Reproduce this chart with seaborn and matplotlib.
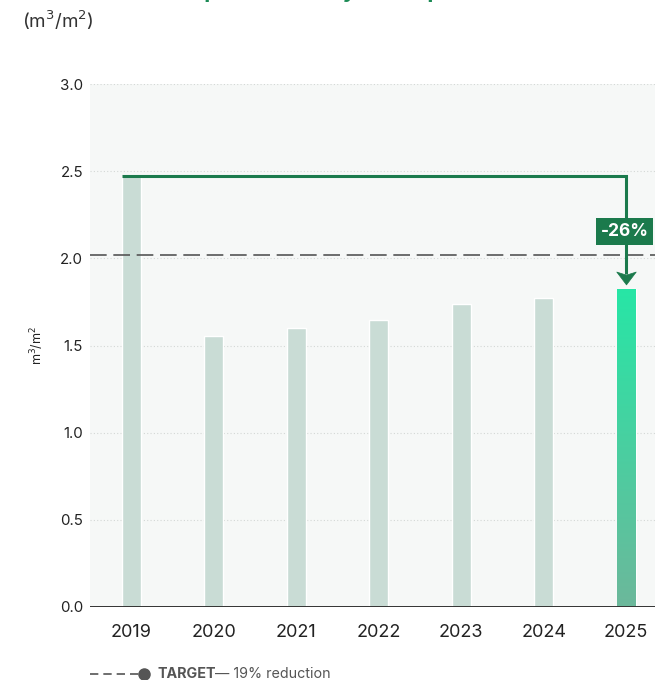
import matplotlib
matplotlib.use("Agg")
import matplotlib.pyplot as plt
from matplotlib.lines import Line2D
from matplotlib.path import Path
import numpy as np
import pandas as pd
import seaborn as sns

# Data
years = ["2019", "2020", "2021", "2022", "2023", "2024", "2025"]
intensity = [2.47, 1.555, 1.60, 1.647, 1.738, 1.773, 1.825]
target_value = 2.02
change_label = "-26%"
y_ticks = [0.0, 0.5, 1.0, 1.5, 2.0, 2.5, 3.0]

df = pd.DataFrame({"year": years, "intensity": intensity})

sns.set_theme(style="white")
plt.rcParams["font.family"] = ["Inter", "DejaVu Sans"]

W, H = 655, 680
fig = plt.figure(figsize=(W / 100, H / 100), dpi=100)
ax = fig.add_axes([90 / W, 1 - 607 / H, 1 - 90 / W, (607 - 84) / H])
ax.set_facecolor("#f6f8f7")

bar_color = "#c9dcd5"
sns.barplot(data=df, x="year", y="intensity", color=bar_color, width=0.23,
            saturation=1, ax=ax, zorder=2)

# Gradient fill on the latest year
last = ax.patches[-1]
x0 = last.get_x()
w = last.get_width()
h = last.get_height()
top_rgb = np.array(matplotlib.colors.to_rgb("#27e6a6"))
bot_rgb = np.array(matplotlib.colors.to_rgb("#6cb89b"))
t = np.linspace(0, 1, 256)[:, None]
grad = (top_rgb[None, :] * (1 - t) + bot_rgb[None, :] * t)[:, None, :]
im = ax.imshow(grad, extent=[x0, x0 + w, 0, h], origin="upper",
               aspect="auto", zorder=3, interpolation="bilinear")
im.set_clip_path(last)
ax.set_xlim(-0.5, 6.35)
ax.set_ylim(0, 3.0)

# Grid and axes styling
for v in y_ticks[1:]:
    ax.axhline(v, color="#d4d8d6", lw=0.8, ls=(0, (1, 2)), zorder=1)
ax.axhline(0, color="#333333", lw=1.4, zorder=4)
for s in ax.spines.values():
    s.set_visible(False)

ax.set_yticks(y_ticks)
ax.set_yticklabels([f"{v:.1f}" for v in y_ticks], fontsize=10.8, color="#222222")
ax.tick_params(axis="y", length=0, pad=5)
ax.tick_params(axis="x", length=0, pad=12, labelsize=13, labelcolor="#222222")
ax.set_xlabel("")
ax.set_ylabel("m$^3$/m$^2$", fontsize=9, color="#222222", labelpad=10)

# Target line
ax.axhline(target_value, color="#555555", lw=1.2, ls=(0, (10, 4)), zorder=5)

# Reduction bracket from first to last year
green = "#1b7a4c"
first = ax.patches[0]
bx0 = first.get_x()
ax.plot([bx0, 6, 6], [intensity[0], intensity[0], 1.91],
        color=green, lw=2.2, zorder=6, solid_joinstyle="miter",
        solid_capstyle="butt")
head = Path([(0, -0.38), (-0.5, 0.28), (0, 0.12), (0.5, 0.28), (0, -0.38)],
            [Path.MOVETO, Path.LINETO, Path.LINETO, Path.LINETO,
             Path.CLOSEPOLY])
ax.plot([6], [1.893], marker=head, ms=14, color=green, mec=green, mew=0.5,
        zorder=7, linestyle="none")
ax.text(5.98, 2.152, change_label, ha="center", va="center",
        fontsize=12.5, fontweight="bold", color="white", zorder=7,
        bbox=dict(boxstyle="square,pad=0.28", fc=green, ec="none"))

# Titles
fig.text(50 / W, 1 + 1.5 / H, "Water consumption intensity of the portfolio",
         fontsize=15.5, fontweight="bold", color="#1b8a55", ha="left",
         va="baseline")
fig.text(22 / W, 1 - 20 / H, "(m$^3$/m$^2$)", fontsize=13.5,
         color="#333333", ha="left", va="center")

# Legend
ly = 1 - 674 / H
fig.add_artist(Line2D([90 / W, 139 / W], [ly, ly], color="#555555", lw=1.2,
                      ls=(0, (5, 3)), transform=fig.transFigure))
fig.add_artist(Line2D([144 / W], [ly], marker="o", ms=8, color="#555555",
                      transform=fig.transFigure))
fig.text(157 / W, ly, "TARGET", fontsize=10.3, fontweight="bold",
         color="#555555", ha="left", va="center")
fig.text(215 / W, ly, "\u2014 19% reduction", fontsize=10.3, color="#555555",
         ha="left", va="center")

fig.savefig("out.png", dpi=100)
